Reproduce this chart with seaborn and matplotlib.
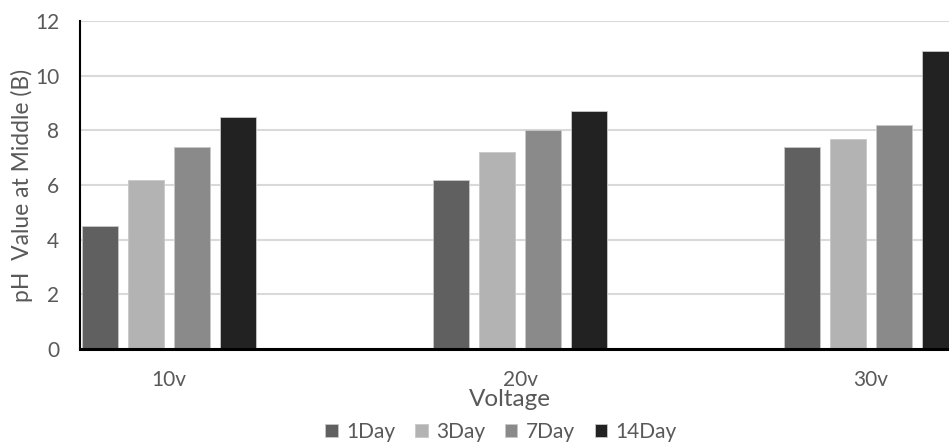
import matplotlib
matplotlib.use("Agg")
import matplotlib.pyplot as plt
import seaborn as sns
import pandas as pd

# ---- data ----
voltages = ["10v", "20v", "30v"]
days = ["1Day", "3Day", "7Day", "14Day"]
ph_1day = [4.5, 6.2, 7.4]
ph_3day = [6.2, 7.2, 7.7]
ph_7day = [7.4, 8.0, 8.2]
ph_14day = [8.5, 8.7, 10.9]
colors = ["#606060", "#b3b3b3", "#8a8a8a", "#222222"]

series = [ph_1day, ph_3day, ph_7day, ph_14day]
rows = []
for d, vals in zip(days, series):
    for v, y in zip(voltages, vals):
        rows.append({"Voltage": v, "Day": d, "pH": y})
df = pd.DataFrame(rows)

sns.set_theme(style="white")
plt.rcParams["font.family"] = ["Lato", "DejaVu Sans"]

W, H = 949, 443
fig = plt.figure(figsize=(W / 100, H / 100), dpi=100)
ax_left, ax_bottom_px, ax_top_px = 80, 349, 21
ax_h = ax_bottom_px - ax_top_px
ax = fig.add_axes([ax_left / W, 1 - ax_bottom_px / H, 1 - ax_left / W, ax_h / H])

sns.barplot(data=df, x="Voltage", y="pH", hue="Day", order=voltages,
            hue_order=days, palette=colors, width=0.524, gap=0.217,
            edgecolor="#c8c8c8", linewidth=0.6, saturation=1, ax=ax,
            errorbar=None)

ax.set_ylim(0, 12)
ax.set_yticks(range(0, 13, 2))
ax.set_xlim(-0.254, 2.222)
ax.grid(axis="y", color="#d9d9d9", linewidth=1.5)
ax.grid(axis="x", visible=False)
ax.set_axisbelow(True)

for s in ["top", "right"]:
    ax.spines[s].set_visible(False)
ax.spines["left"].set_color("black")
ax.spines["left"].set_linewidth(1.5)
ax.spines["bottom"].set_color("black")
ax.spines["bottom"].set_linewidth(2.2)

ax.tick_params(axis="both", length=0, labelsize=15, labelcolor="#595959")
ax.tick_params(axis="y", pad=15)
ax.tick_params(axis="x", pad=15)

ax.set_ylabel("pH  Value at Middle (B)", fontsize=16.5, color="#595959")
ax.yaxis.set_label_coords(-47 / (W - ax_left), 0.5)
ax.set_xlabel("Voltage", fontsize=17.5, color="#595959")
ax.xaxis.set_label_coords((510 - ax_left) / (W - ax_left), (ax_bottom_px - 389) / ax_h)

sns.move_legend(ax, "center", bbox_to_anchor=((501 - ax_left) / (W - ax_left),
                                               (ax_bottom_px - 432) / ax_h),
                ncol=4, frameon=False, title=None, fontsize=15,
                handlelength=0.6, handleheight=0.6, handletextpad=0.4,
                columnspacing=0.95, labelcolor="#595959")

fig.savefig("out.png", dpi=100)
